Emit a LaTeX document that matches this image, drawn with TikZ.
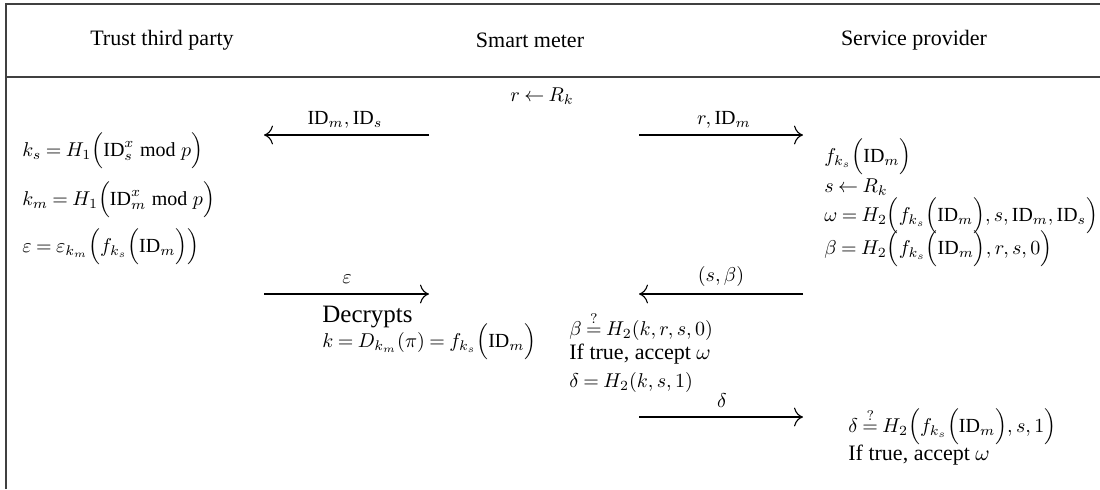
\documentclass[tikz,border=0pt]{standalone}
\usepackage{graphicx}
\usepackage{fontspec}
\setmainfont{Liberation Serif}
\usetikzlibrary{arrows.meta}
\newcommand{\IDm}{\mathrm{ID}_m}
\newcommand{\IDs}{\mathrm{ID}_s}
\newcommand{\qeq}{\stackrel{?}{=}}
\thickmuskip=4mu plus 2mu
\medmuskip=3mu plus 2mu minus 3mu
\begin{document}
\begin{tikzpicture}[x=0.5pt,y=-0.5pt,
  font=\fontsize{10.5}{12.6}\selectfont,
  frame/.style={line width=0.8pt, draw=black!75},
  msg/.style={-{To[scale=1.6]}, line width=0.55pt},
  lbl/.style={inner sep=0pt, font=\fontsize{10}{12}\selectfont},
  eq/.style={inner sep=0pt, anchor=west, font=\fontsize{10}{12}\selectfont},
  txt/.style={inner sep=0pt, anchor=west, font=\fontsize{11}{13}\selectfont},
  hdr/.style={inner sep=0pt, font=\fontsize{11}{13}\selectfont},
  big/.style={inner sep=0pt, anchor=west, font=\fontsize{12.5}{14}\selectfont}]
\useasboundingbox (0,0) rectangle (1100,489);
% frame
\draw[frame] (6,489) -- (6,4) -- (1100,4);
\draw[frame] (6,77) -- (1100,77);
% headers
\node[hdr] (ttp) at (162,40) {Trust third party};
\node[hdr] (sm) at (530,40) {Smart meter};
\node[hdr] (sp) at (914,40) {Service provider};
% smart meter random
\node[lbl] (rR) at (542,96) {$r \leftarrow R_k$};
% message 1 and 2
\coordinate (m1s) at (429,135); \coordinate (m1e) at (264,135);
\coordinate (m2s) at (639,135); \coordinate (m2e) at (803,135);
\draw[msg] (m1s) -- (m1e);
\draw[msg] (m2s) -- (m2e);
\node[lbl] (l1) at (345,120) {$\IDm, \IDs$};
\node[lbl] (l2) at (724,120) {$r, \IDm$};
% TTP equations
\node[eq] (ks) at (22,151) {$k_s = H_1\Bigl(\IDs^x \bmod p\Bigr)$};
\node[eq] (km) at (22,200) {$k_m = H_1\Bigl(\IDm^x \bmod p\Bigr)$};
\node[eq] (ep) at (22,247) {$\varepsilon = \varepsilon_{k_m}\Bigl(f_{k_s}\Bigl(\IDm\Bigr)\Bigr)$};
% SP equations
\node[eq] (f) at (824,157) {$f_{k_s}\Bigl(\IDm\Bigr)$};
\node[eq] (sR) at (824,187) {$s \leftarrow R_k$};
\node[eq] (om) at (824,216) {\scalebox{0.99}[1]{$\omega = H_2\Bigl(f_{k_s}\Bigl(\IDm\Bigr), s, \IDm, \IDs\Bigr)$}};
\node[eq] (be) at (824,249) {$\beta = H_2\Bigl(f_{k_s}\Bigl(\IDm\Bigr), r, s, 0\Bigr)$};
% message 3 (epsilon)
\coordinate (m3s) at (264,294); \coordinate (m3e) at (429,294);
\draw[msg] (m3s) -- (m3e);
\node[lbl] (l3) at (347,279) {$\varepsilon$};
\node[big] (dec) at (322,317) {Decrypts};
\node[eq] (kk) at (322,342) {$k = D_{k_m}(\pi) = f_{k_s}\Bigl(\IDm\Bigr)$};
% message 4 (s, beta)
\coordinate (m4s) at (803,294); \coordinate (m4e) at (639,294);
\draw[msg] (m4s) -- (m4e);
\node[lbl] (l4) at (721,276) {$(s, \beta)$};
% SM verification
\node[eq] (bq) at (569,326) {$\beta \qeq H_2(k, r, s, 0)$};
\node[txt] (it1) at (569,354) {If true, accept $\omega$};
\node[eq] (de) at (569,382) {$\delta = H_2(k, s, 1)$};
% message 5 (delta)
\coordinate (m5s) at (639,417); \coordinate (m5e) at (803,417);
\draw[msg] (m5s) -- (m5e);
\node[lbl] (l5) at (722,401) {$\delta$};
% SP verification
\node[eq] (dq) at (848,427) {$\delta \qeq H_2\Bigl(f_{k_s}\Bigl(\IDm\Bigr), s, 1\Bigr)$};
\node[txt] (it2) at (848,455) {If true, accept $\omega$};
\end{tikzpicture}
\end{document}
